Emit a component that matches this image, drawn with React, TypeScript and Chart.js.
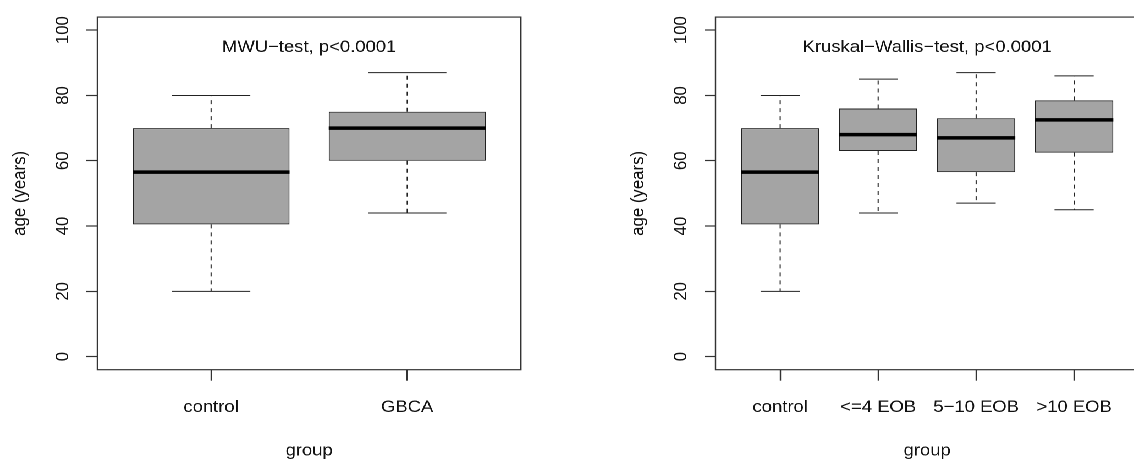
import React, { useEffect, useRef } from "react";
import { Chart, registerables } from "chart.js";

Chart.register(...registerables);

// ---------- data ----------
const leftCategories = ["control", "GBCA"];
const leftWhiskerLow = [20, 44];
const leftQ1 = [40.5, 60];
const leftMedian = [56.5, 70];
const leftQ3 = [70, 75];
const leftWhiskerHigh = [80, 87];
const leftTitle = "MWU\u2212test, p<0.0001";

const rightCategories = ["control", "<=4 EOB", "5\u221210 EOB", ">10 EOB"];
const rightWhiskerLow = [20, 44, 47, 45];
const rightQ1 = [40.5, 63, 56.5, 62.5];
const rightMedian = [56.5, 68, 67, 72.5];
const rightQ3 = [70, 76, 73, 78.5];
const rightWhiskerHigh = [80, 85, 87, 86];
const rightTitle = "Kruskal\u2212Wallis\u2212test, p<0.0001";

const yTicks = [0, 20, 40, 60, 80, 100];
const yAxisTitle = "age (years)";
const xAxisTitle = "group";

// ---------- style ----------
const FONT_FAMILY = "'Liberation Sans', Arial, Helvetica, sans-serif";
const FONT_SIZE = 16.8;
const STRETCH = 1.1;
const CANVAS_W = 515;
const CANVAS_H = 465;
const PLOT_LEFT = 88.5;
const PLOT_TOP = 12.7;
const PLOT_BOTTOM = 369.7;
const BOX_FILL = "#a4a4a4";
const LINE = "#222";

type PanelProps = {
  categories: string[];
  low: number[];
  q1: number[];
  median: number[];
  q3: number[];
  high: number[];
  title: string;
  xMin: number;
  xMax: number;
  plotRight: number;
};

function BoxPanel(props: PanelProps) {
  const ref = useRef<HTMLCanvasElement | null>(null);
  useEffect(() => {
    const { categories, low, q1, median, q3, high, title, xMin, xMax, plotRight } = props;
    const boxPlugin = {
      id: "boxparts",
      beforeDatasetsDraw(chart: any) {
        const ctx = chart.ctx;
        const xs = chart.scales.x;
        const ys = chart.scales.y;
        ctx.save();
        ctx.strokeStyle = LINE;
        ctx.lineWidth = 1;
        categories.forEach((_, i) => {
          const cx = xs.getPixelForValue(i + 1);
          ctx.setLineDash([4, 4]);
          ctx.beginPath();
          ctx.moveTo(cx, ys.getPixelForValue(q3[i]));
          ctx.lineTo(cx, ys.getPixelForValue(high[i]));
          ctx.moveTo(cx, ys.getPixelForValue(q1[i]));
          ctx.lineTo(cx, ys.getPixelForValue(low[i]));
          ctx.stroke();
          ctx.setLineDash([]);
          const c1 = xs.getPixelForValue(i + 1 - 0.2);
          const c2 = xs.getPixelForValue(i + 1 + 0.2);
          ctx.beginPath();
          ctx.moveTo(c1, ys.getPixelForValue(high[i]));
          ctx.lineTo(c2, ys.getPixelForValue(high[i]));
          ctx.moveTo(c1, ys.getPixelForValue(low[i]));
          ctx.lineTo(c2, ys.getPixelForValue(low[i]));
          ctx.stroke();
        });
        ctx.restore();
      },
      afterDatasetsDraw(chart: any) {
        const ctx = chart.ctx;
        const xs = chart.scales.x;
        const ys = chart.scales.y;
        ctx.save();
        ctx.strokeStyle = "#000";
        ctx.lineWidth = 3.5;
        ctx.lineCap = "butt";
        categories.forEach((_, i) => {
          const y = ys.getPixelForValue(median[i]);
          ctx.beginPath();
          ctx.moveTo(xs.getPixelForValue(i + 1 - 0.4), y);
          ctx.lineTo(xs.getPixelForValue(i + 1 + 0.4), y);
          ctx.stroke();
        });
        ctx.restore();
      },
      afterDraw(chart: any) {
        const ctx = chart.ctx;
        const a = chart.chartArea;
        ctx.save();
        ctx.strokeStyle = "#333";
        ctx.lineWidth = 1.2;
        ctx.strokeRect(a.left, a.top, a.right - a.left, a.bottom - a.top);
        ctx.fillStyle = "#111";
        ctx.font = `${FONT_SIZE}px ${FONT_FAMILY}`;
        ctx.textAlign = "center";
        ctx.textBaseline = "middle";
        ctx.fillText(title, (a.left + a.right) / 2, a.top + 30.4);
        ctx.restore();
      },
    };

    const font = { family: FONT_FAMILY, size: FONT_SIZE };
    const chart = new Chart(ref.current as HTMLCanvasElement, {
      type: "bar",
      data: {
        datasets: [
          {
            data: categories.map((_, i) => ({ x: i + 1, y: [q1[i], q3[i]] })) as any,
            backgroundColor: BOX_FILL,
            borderColor: LINE,
            borderWidth: 1,
            borderSkipped: false,
            categoryPercentage: 1,
            barPercentage: 0.8,
          },
        ],
      },
      options: {
        animation: false,
        responsive: false,
        maintainAspectRatio: false,
        devicePixelRatio: 2,
        events: [],
        layout: {
          padding: { left: 0, top: PLOT_TOP, right: CANVAS_W - plotRight, bottom: 0 },
        },
        plugins: {
          legend: { display: false },
          tooltip: { enabled: false },
          title: { display: false },
        },
        scales: {
          x: {
            type: "linear",
            min: xMin,
            max: xMax,
            offset: false,
            afterBuildTicks: (scale: any) => {
              scale.ticks = categories.map((_, i) => ({ value: i + 1 }));
            },
            afterFit: (scale: any) => {
              scale.height = CANVAS_H - PLOT_BOTTOM;
            },
            grid: {
              offset: false,
              drawOnChartArea: false,
              drawTicks: true,
              tickLength: 11,
              tickColor: "#333",
              tickWidth: 1.2,
            },
            border: { display: false },
            ticks: {
              autoSkip: false,
              maxRotation: 0,
              minRotation: 0,
              padding: 16.5,
              color: "#111",
              font,
              callback: (v: any) => categories[Math.round(Number(v)) - 1] ?? "",
            },
            title: {
              display: true,
              text: xAxisTitle,
              color: "#111",
              font,
              padding: { top: 0, bottom: 4.1 },
            },
          },
          y: {
            type: "linear",
            min: -4,
            max: 104,
            afterBuildTicks: (scale: any) => {
              scale.ticks = yTicks.map((v) => ({ value: v }));
            },
            afterFit: (scale: any) => {
              scale.width = PLOT_LEFT;
            },
            grid: {
              drawOnChartArea: false,
              drawTicks: true,
              tickLength: 10,
              tickColor: "#333",
              tickWidth: 1.2,
            },
            border: { display: false },
            ticks: {
              autoSkip: false,
              minRotation: 90,
              maxRotation: 90,
              crossAlign: "center",
              padding: 7,
              color: "#111",
              font,
              callback: (v: any) => String(v),
            },
            title: {
              display: true,
              text: yAxisTitle,
              color: "#111",
              font,
              padding: { top: 8.5, bottom: 0 },
            },
          },
        },
      } as any,
      plugins: [boxPlugin],
    });
    return () => chart.destroy();
  }, []);
  return (
    <canvas
      ref={ref}
      width={CANVAS_W}
      height={CANVAS_H}
      style={{ width: CANVAS_W, height: CANVAS_H, display: "block" }}
    />
  );
}

export default function App() {
  return (
    <div
      style={{
        position: "fixed",
        left: 0,
        top: 0,
        width: 1134,
        height: 465,
        overflow: "hidden",
        background: "#fff",
      }}
    >
      <div
        style={{
          position: "absolute",
          left: 0,
          top: 0,
          width: 1200,
          height: CANVAS_H,
          transform: `scaleX(${STRETCH})`,
          transformOrigin: "0 0",
        }}
      >
        <div style={{ position: "absolute", left: 0, top: 0 }}>
          <BoxPanel
            categories={leftCategories}
            low={leftWhiskerLow}
            q1={leftQ1}
            median={leftMedian}
            q3={leftQ3}
            high={leftWhiskerHigh}
            title={leftTitle}
            xMin={0.42}
            xMax={2.58}
            plotRight={473.6}
          />
        </div>
        <div style={{ position: "absolute", left: 562.1, top: 0 }}>
          <BoxPanel
            categories={rightCategories}
            low={rightWhiskerLow}
            q1={rightQ1}
            median={rightMedian}
            q3={rightQ3}
            high={rightWhiskerHigh}
            title={rightTitle}
            xMin={0.34}
            xMax={4.66}
            plotRight={473.3}
          />
        </div>
      </div>
    </div>
  );
}
